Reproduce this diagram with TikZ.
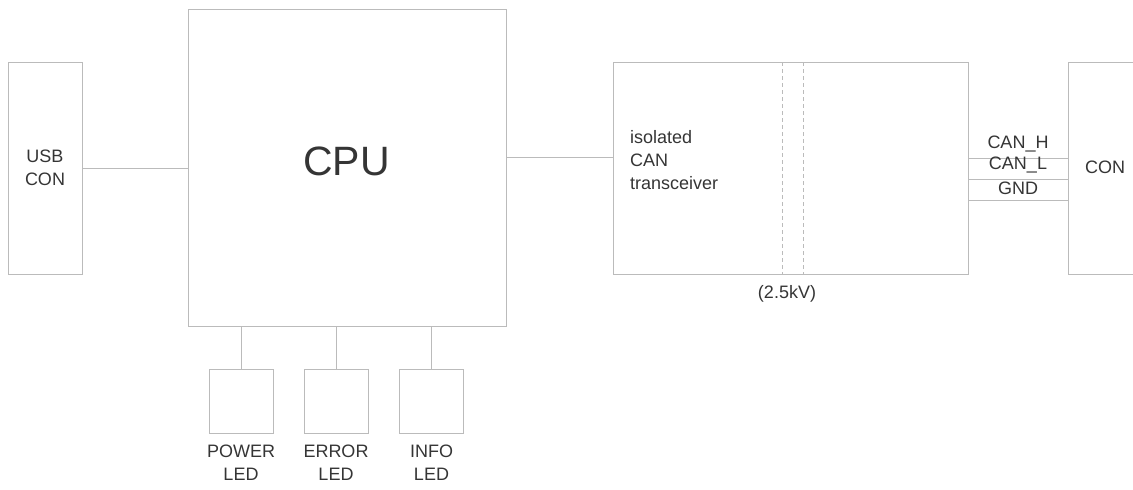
\documentclass[tikz,border=0pt]{standalone}
\usepackage{fontspec}
\setmainfont{Liberation Sans}
\usetikzlibrary{calc}
\definecolor{wire}{HTML}{BBBBBB}
\definecolor{ink}{HTML}{353535}

\begin{document}
\begin{tikzpicture}[x=1pt, y=1pt,
		blk/.style={draw=wire, line width=1pt, inner sep=0pt, outer sep=0pt, text=ink, font=\fontsize{18}{23}\selectfont, align=center},
		wire/.style={draw=wire, line width=1pt},
		isoline/.style={draw=wire, line width=1pt, dash pattern=on 4pt off 3pt},
		txt/.style={text=ink, font=\fontsize{18}{23}\selectfont, inner sep=0pt}]
			%%%%% START %%%%%
			
			\useasboundingbox (0, 0) rectangle (1133, -490);
			
			\node[blk, minimum width=74pt, minimum height=212pt] (usb) at (45, -168) {USB\\CON};
			\node[blk, minimum width=318pt, minimum height=317pt] (cpu) at (347, -167.5) {};
			\node[txt, font=\fontsize{41}{48}\selectfont] (cpulabel) at (346.5, -161) {CPU};
			
			\draw[wire] (usb.east) -- (cpu.west |- usb.east);
			
			\node[blk, minimum width=355pt, minimum height=212pt] (xcvr) at (790.5, -168) {};
			\node[txt, anchor=north west, align=left] (xcvrlabel) at (630, -130) {isolated\\CAN\\transceiver};
			\draw[wire] (cpu.east |- 0, -157) -- (xcvr.west |- 0, -157);
			
			\draw[isoline] ($(xcvr.north west)+(169, 0)$) -- ($(xcvr.south west)+(169, 0)$);
			\draw[isoline] ($(xcvr.north west)+(190, 0)$) -- ($(xcvr.south west)+(190, 0)$);
			\node[txt] (kv) at (787, -294) {(2.5kV)};
			
			\node[blk, minimum width=100pt, minimum height=212pt, anchor=west] (con) at (1068, -168) {};
			\node[txt] (conlabel) at (1105, -167) {CON};
			
			\draw[wire] (xcvr.east |- 0, -158) -- node[txt, above=5pt] (canh) {CAN\_H} (con.west |- 0, -158);
			\draw[wire] (xcvr.east |- 0, -179) -- node[txt, above=5pt] (canl) {CAN\_L} (con.west |- 0, -179);
			\draw[wire] (xcvr.east |- 0, -200) -- node[txt, above=5pt] (gnd) {GND} (con.west |- 0, -200);
			
			\node[blk, minimum width=64pt, minimum height=64pt] (powerled) at (241, -401) {};
			\node[blk, minimum width=64pt, minimum height=64pt] (errorled) at (336, -401) {};
			\node[blk, minimum width=64pt, minimum height=64pt] (infoled) at (431.5, -401) {};
			
			\draw[wire] (powerled.north) -- (cpu.south -| powerled.north);
			\draw[wire] (errorled.north) -- (cpu.south -| errorled.north);
			\draw[wire] (infoled.north) -- (cpu.south -| infoled.north);
			
			\node[txt, align=center, anchor=north] (powerlabel) at (241, -445) {POWER\\LED};
			\node[txt, align=center, anchor=north] (errorlabel) at (336, -445) {ERROR\\LED};
			\node[txt, align=center, anchor=north] (infolabel) at (431.5, -445) {INFO\\LED};
			
			%%%%% END %%%%%
		\end{tikzpicture}
\end{document}
